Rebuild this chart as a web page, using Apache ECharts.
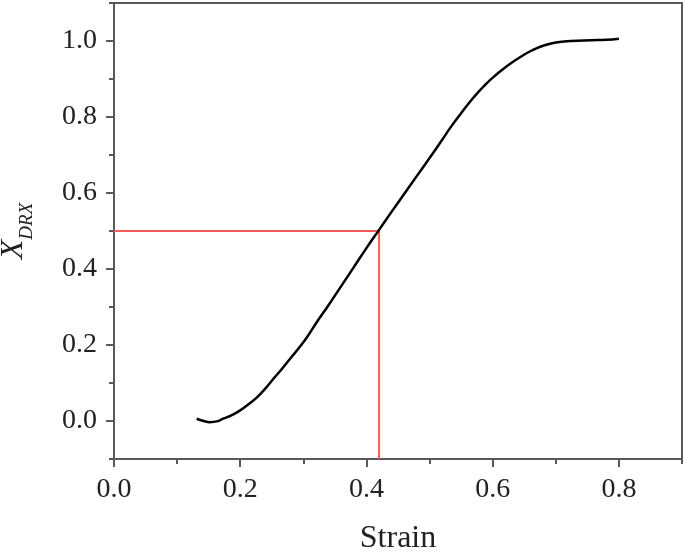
<!DOCTYPE html>
<html>
<head>
<meta charset="utf-8">
<script src="https://cdn.jsdelivr.net/npm/echarts@6/dist/echarts.min.js"></script>
<style>
  html, body { margin: 0; padding: 0; background: #fff; }
  #chart { width: 685px; height: 552px; }
</style>
</head>
<body>
<div id="chart"></div>
<script>
// strain vs recrystallized fraction
const strain = [0.131, 0.142, 0.152, 0.163, 0.173, 0.186, 0.2, 0.213, 0.227, 0.24, 0.253, 0.266, 0.279, 0.293, 0.306, 0.322, 0.338, 0.36, 0.38, 0.4, 0.42, 0.44, 0.46, 0.48, 0.5, 0.52, 0.533, 0.55, 0.57, 0.59, 0.607, 0.625, 0.644, 0.662, 0.681, 0.7, 0.724, 0.756, 0.78, 0.8]
const xdrx = [0.006, 0.0, -0.003, -0.001, 0.006, 0.015, 0.028, 0.044, 0.063, 0.086, 0.112, 0.137, 0.164, 0.192, 0.221, 0.262, 0.3, 0.355, 0.405, 0.455, 0.503, 0.551, 0.598, 0.645, 0.692, 0.74, 0.772, 0.81, 0.852, 0.888, 0.913, 0.937, 0.958, 0.975, 0.988, 0.996, 1.0, 1.002, 1.003, 1.006]

// half-fraction guide
const halfStrain = 0.42
const halfX = 0.5

// tick labels / tick positions
const xMajor = [0, 0.2, 0.4, 0.6, 0.8]
const xMinor = [0.1, 0.3, 0.5, 0.7, 0.9]
const yMajor = [0, 0.2, 0.4, 0.6, 0.8, 1.0]
const yMinor = [-0.1, 0.1, 0.3, 0.5, 0.7, 0.9, 1.1]
const xRange = [0, 0.9]
const yRange = [-0.1, 1.1]

const serif = 'Liberation Serif'
const axisGray = '#5a5a5a'
const textColor = '#222'

const chart = echarts.init(document.getElementById('chart'))

function makeAxis (range, major, minor, position, labelMargin, extra) {
  const base = {
    type: 'value',
    position,
    min: range[0],
    max: range[1],
    interval: 0.1,
    splitLine: { show: false }
  }
  return [
    {
      ...base,
      axisLine: { show: true, onZero: false, lineStyle: { color: axisGray, width: 2 } },
      axisTick: { show: true, length: 8, customValues: major, lineStyle: { color: axisGray, width: 2 } },
      axisLabel: {
        customValues: major,
        fontFamily: serif,
        fontSize: 28,
        color: textColor,
        margin: labelMargin,
        formatter: v => v.toFixed(1)
      },
      ...extra
    },
    {
      // minor ticks only
      ...base,
      axisLine: { show: false, onZero: false },
      axisTick: { show: true, length: 5, customValues: minor, lineStyle: { color: axisGray, width: 2 } },
      axisLabel: { show: false }
    }
  ]
}

chart.setOption({
  animation: false,
  backgroundColor: '#fff',
  grid: {
    left: 114, right: 3, top: 3, bottom: 93,
    outerBoundsMode: 'none',
    containLabel: false,
    show: true,
    borderColor: axisGray,
    borderWidth: 2
  },
  xAxis: makeAxis(xRange, xMajor, xMinor, 'bottom', 17, {
    name: 'Strain',
    nameLocation: 'middle',
    nameGap: 64,
    nameTextStyle: { fontFamily: serif, fontSize: 32, color: textColor }
  }),
  yAxis: makeAxis(yRange, yMajor, yMinor, 'left', 17, {
    name: '{x|X}{sub|DRX}',
    nameLocation: 'middle',
    nameGap: 84,
    nameTextStyle: {
      fontFamily: serif,
      color: textColor,
      rich: {
        x: { fontFamily: serif, fontStyle: 'italic', fontSize: 32, lineHeight: 32, verticalAlign: 'top', color: textColor },
        sub: { fontFamily: serif, fontStyle: 'italic', fontSize: 19, lineHeight: 19, padding: [25, 0, 0, 0], color: textColor }
      }
    }
  }),
  series: [
    {
      type: 'line',
      data: [[0, halfX], [halfStrain, halfX], [halfStrain, yRange[0]]],
      showSymbol: false,
      lineStyle: { color: '#ff5a5a', width: 2 },
      z: 2
    },
    {
      type: 'line',
      data: strain.map((s, i) => [s, xdrx[i]]),
      smooth: 0.5,
      showSymbol: false,
      lineStyle: { color: '#000', width: 2.5 },
      z: 3
    }
  ]
})
</script>
</body>
</html>
